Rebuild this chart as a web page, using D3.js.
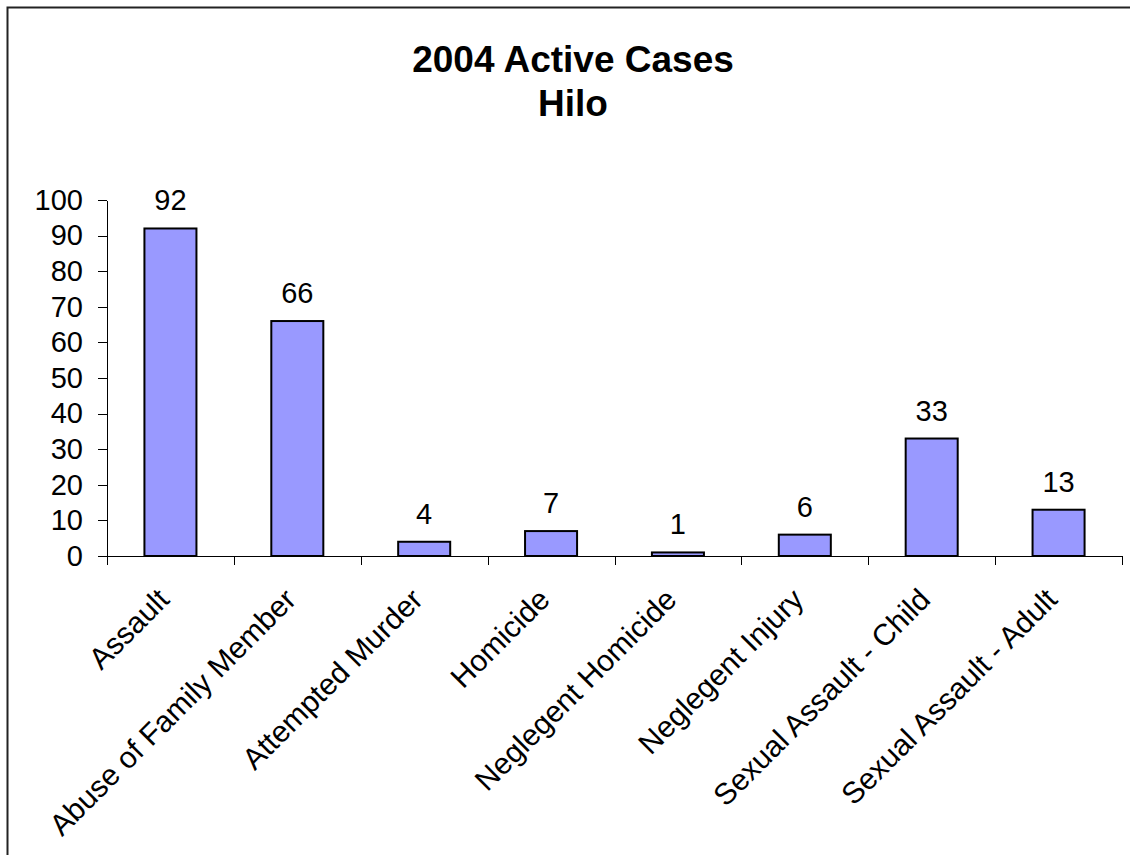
<!DOCTYPE html>
<html>
<head>
<meta charset="utf-8">
<script src="https://cdn.jsdelivr.net/npm/d3@7"></script>
<style>
  body { margin: 0; background: #fff; }
  svg text { font-family: "Liberation Sans", Arial, sans-serif; fill: #000; }
</style>
</head>
<body>
<div class="container"></div>
<script>
const categories = [
  'Assault',
  'Abuse of Family Member',
  'Attempted Murder',
  'Homicide',
  'Neglegent Homicide',
  'Neglegent Injury',
  'Sexual Assault - Child',
  'Sexual Assault - Adult'
];
const cases = [92, 66, 4, 7, 1, 6, 33, 13];
const yTicks = [0, 10, 20, 30, 40, 50, 60, 70, 80, 90, 100];
const titleLines = ['2004 Active Cases', 'Hilo'];

const width = 1130;
const height = 855;
const margin = { top: 200, right: 8, bottom: 299, left: 107 };

const svg = d3
  .select('.container')
  .append('svg')
  .attr('width', width)
  .attr('height', height);

// outer chart frame (right and bottom edges fall outside the picture)
svg
  .append('rect')
  .attr('x', 7.5)
  .attr('y', 7.5)
  .attr('width', width + 20)
  .attr('height', height + 20)
  .attr('fill', '#fff')
  .attr('stroke', '#222')
  .attr('stroke-width', 2);

const x = d3
  .scaleBand()
  .domain(categories)
  .range([margin.left, width - margin.right])
  .paddingInner(0.59)
  .paddingOuter(0.295);

const y = d3
  .scaleLinear()
  .domain([0, 100])
  .range([height - margin.bottom, margin.top]);

// title
svg
  .append('g')
  .attr('class', 'title')
  .selectAll('text')
  .data(titleLines)
  .join('text')
  .attr('x', 573)
  .attr('y', (d, i) => 72 + i * 44)
  .attr('text-anchor', 'middle')
  .attr('font-size', 37)
  .attr('font-weight', 'bold')
  .text((d) => d);

// bars
svg
  .append('g')
  .attr('class', 'bars')
  .selectAll('rect')
  .data(cases)
  .join('rect')
  .attr('x', (d, i) => x(categories[i]))
  .attr('y', (d) => y(d))
  .attr('width', x.bandwidth())
  .attr('height', (d) => y(0) - y(d))
  .attr('fill', '#9999ff')
  .attr('stroke', '#000')
  .attr('stroke-width', 2);

// value labels
svg
  .append('g')
  .attr('class', 'values')
  .selectAll('text')
  .data(cases)
  .join('text')
  .attr('x', (d, i) => x(categories[i]) + x.bandwidth() / 2)
  .attr('y', (d) => y(d) - 18)
  .attr('text-anchor', 'middle')
  .attr('font-size', 29)
  .text((d) => d);

// y axis
const yAxis = svg
  .append('g')
  .attr('class', 'y-axis')
  .attr('transform', `translate(${margin.left},0)`)
  .call(d3.axisLeft(y).tickValues(yTicks).tickSize(9).tickSizeOuter(0).tickPadding(15));
yAxis.selectAll('text').attr('font-size', 29).attr('font-family', null);
yAxis.selectAll('path, line').attr('stroke', '#000').attr('shape-rendering', 'crispEdges');

// x axis: ticks sit on the category boundaries
const xEdges = d3
  .scaleLinear()
  .domain([0, categories.length])
  .range([margin.left, width - margin.right]);
const xAxis = svg
  .append('g')
  .attr('class', 'x-axis')
  .attr('transform', `translate(0,${y(0)})`)
  .call(
    d3.axisBottom(xEdges)
      .tickValues(d3.range(categories.length + 1))
      .tickSize(9)
      .tickSizeOuter(0)
      .tickFormat('')
  );
xAxis.selectAll('path, line').attr('stroke', '#000').attr('shape-rendering', 'crispEdges');

// rotated category labels
svg
  .append('g')
  .attr('class', 'x-labels')
  .selectAll('text')
  .data(categories)
  .join('text')
  .attr('transform', (d) => `translate(${x(d) + x.bandwidth() / 2 - 7},${y(0) + 38}) rotate(-45)`)
  .attr('text-anchor', 'end')
  .attr('dy', '0.35em')
  .attr('font-size', 30)
  .text((d) => d);
</script>
</body>
</html>
